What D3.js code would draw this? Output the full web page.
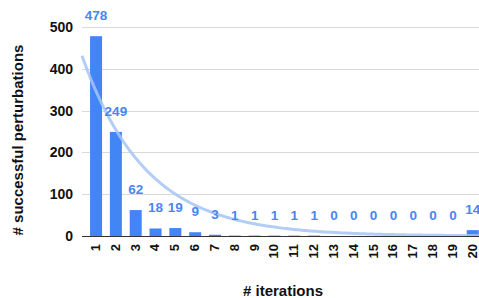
<!DOCTYPE html>
<html>
<head>
<meta charset="utf-8">
<script src="https://cdn.jsdelivr.net/npm/d3@7"></script>
<style>
body { margin: 0; background: #fff; }
text { font-family: Arial, "Liberation Sans", sans-serif; font-weight: bold; }
</style>
</head>
<body>
<script>
var iterations = ["1","2","3","4","5","6","7","8","9","10","11","12","13","14","15","16","17","18","19","20"];
var perturbations = [478, 249, 62, 18, 19, 9, 3, 1, 1, 1, 1, 1, 0, 0, 0, 0, 0, 0, 0, 14];
var yTicks = [0, 100, 200, 300, 400, 500];
// exponential trendline y = a * e^(b*x)
var trendA = 472, trendB = -0.31;

var width = 479, height = 298;
var plotLeft = 82, plotRight = 479, plotTop = 27, plotBottom = 236;

var svg = d3.select("body").append("svg")
    .attr("width", width)
    .attr("height", height)

var x = d3.scaleBand()
    .domain(iterations)
    .range([86.1, 482.7])
    .paddingInner(0.395)
    .paddingOuter(0.2)

var y = d3.scaleLinear()
    .domain([0, 500])
    .range([plotBottom, plotTop])

// gridlines
svg.append("g")
    .selectAll("line")
    .data(yTicks.filter(function(d) { return d > 0; }))
    .join("line")
        .attr("x1", plotLeft)
        .attr("x2", plotRight)
        .attr("y1", function(d) { return Math.round(y(d)) + 0.5; })
        .attr("y2", function(d) { return Math.round(y(d)) + 0.5; })
        .attr("stroke", "#d9d9d9")
        .attr("stroke-width", 1)

// y tick labels
svg.append("g")
    .selectAll("text")
    .data(yTicks)
    .join("text")
        .attr("x", 73)
        .attr("y", function(d) { return y(d); })
        .attr("dy", "0.36em")
        .attr("text-anchor", "end")
        .attr("font-size", 14)
        .attr("fill", "#111")
        .text(function(d) { return d; })

// bars
svg.append("g")
    .selectAll("rect")
    .data(perturbations)
    .join("rect")
        .attr("x", function(d, i) { return x(iterations[i]); })
        .attr("y", function(d) { return y(d); })
        .attr("width", x.bandwidth())
        .attr("height", function(d) { return plotBottom - y(d); })
        .attr("fill", "#4285f4")

// trendline
var xCenter = function(v) { return x(iterations[0]) + x.bandwidth() / 2 + (v - 1) * x.step(); };
var xStart = (plotLeft - xCenter(1)) / x.step() + 1;
var trend = d3.range(xStart, 20.6, 0.1).map(function(v) { return [v, trendA * Math.exp(trendB * v)]; });

svg.append("path")
    .datum(trend)
    .attr("fill", "none")
    .attr("stroke", "#a6c4f6")
    .attr("stroke-opacity", 0.85)
    .attr("stroke-width", 3)
    .attr("d", d3.line()
        .x(function(d) { return xCenter(d[0]); })
        .y(function(d) { return y(d[1]); }))

// baseline
svg.append("line")
    .attr("x1", plotLeft)
    .attr("x2", plotRight)
    .attr("y1", plotBottom + 0.5)
    .attr("y2", plotBottom + 0.5)
    .attr("stroke", "#333")
    .attr("stroke-width", 1)

// value labels
svg.append("g")
    .selectAll("text")
    .data(perturbations)
    .join("text")
        .attr("x", function(d, i) { return x(iterations[i]) + x.bandwidth() / 2; })
        .attr("y", function(d) { return y(d) - 16; })
        .attr("text-anchor", "middle")
        .attr("font-size", 13.5)
        .attr("fill", "#4a86f0")
        .text(function(d) { return d; })

// x tick labels
svg.append("g")
    .selectAll("text")
    .data(iterations)
    .join("text")
        .attr("transform", function(d) {
            return "translate(" + (x(d) + x.bandwidth() / 2 - 0.5) + "," + 244 + ") rotate(-90)";
        })
        .attr("dy", "0.34em")
        .attr("text-anchor", "end")
        .attr("font-size", 13)
        .attr("fill", "#111")
        .text(function(d) { return d; })

// axis titles
svg.append("text")
    .attr("x", 283)
    .attr("y", 296)
    .attr("text-anchor", "middle")
    .attr("font-size", 15)
    .attr("fill", "#111")
    .text("# iterations")

svg.append("text")
    .attr("transform", "translate(18,140) rotate(-90)")
    .attr("dy", "0.36em")
    .attr("text-anchor", "middle")
    .attr("font-size", 15)
    .attr("fill", "#111")
    .text("# successful perturbations")
</script>
</body>
</html>
